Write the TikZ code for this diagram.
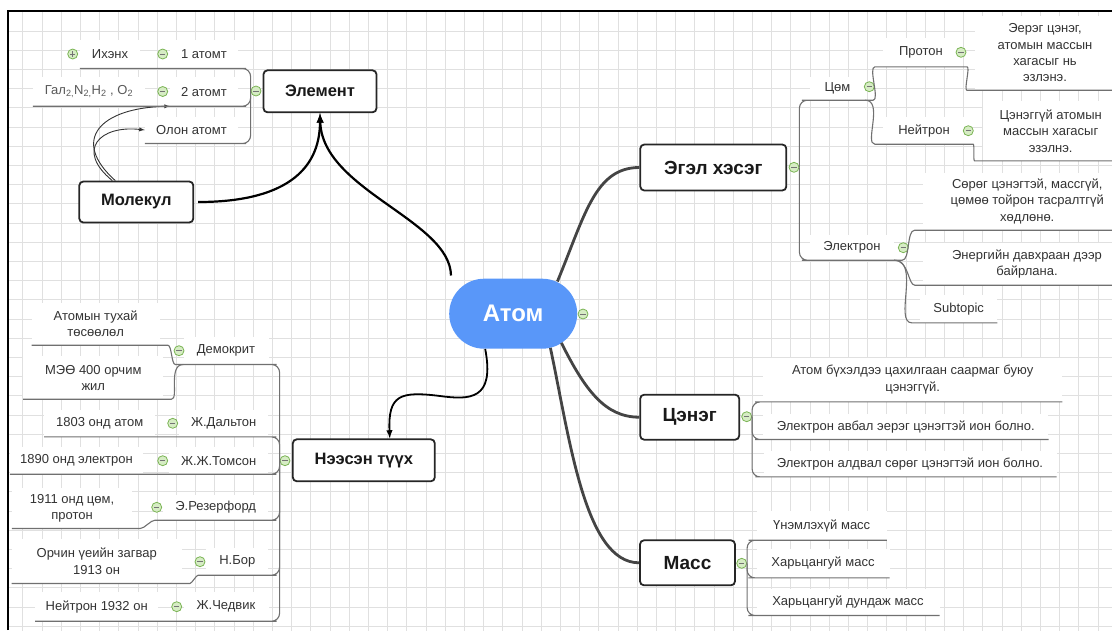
\documentclass[tikz,border=0pt]{standalone}
\usepackage{fontspec}
\setmainfont{Liberation Sans}
\definecolor{atomblue}{RGB}{89,151,249}
\definecolor{branchgray}{RGB}{68,68,68}
\definecolor{subgray}{RGB}{112,112,112}
\definecolor{textgray}{RGB}{51,51,51}
\definecolor{foldgreen}{RGB}{122,180,84}
\definecolor{foldfill}{RGB}{214,236,196}
\definecolor{gridgray}{RGB}{224,224,224}
\tikzset{
  topic/.style     = {shape=rectangle, rounded corners=4pt,
                      draw=black!85, line width=1.8pt, fill=white,
                      align=center, text=black!90,
                      font=\bfseries\fontsize{16.5}{18}\selectfont},
  bigtopic/.style  = {topic, font=\bfseries\fontsize{19}{21}\selectfont},
  root/.style      = {shape=rectangle, rounded corners=35pt,
                      fill=atomblue, text=white,
                      minimum width=128pt, minimum height=70pt,
                      font=\bfseries\fontsize{24}{25}\selectfont},
  leaf/.style 2 args = {shape=rectangle, fill=white, align=center,
                      inner sep=0pt, text=textgray,
                      minimum width=#1pt, minimum height=#2pt,
                      font=\fontsize{13}{16.3}\selectfont},
  fold/.style      = {circle, draw=foldgreen, fill=foldfill, line width=0.8pt,
                      minimum size=10pt, inner sep=0pt,
                      path picture={\draw[black!55, line width=1pt]
                        ([xshift=-2.6pt]path picture bounding box.center) --
                        ([xshift=2.6pt]path picture bounding box.center);}},
  unfold/.style    = {fold,
                      path picture={\draw[black!55, line width=1pt]
                        ([xshift=-2.6pt]path picture bounding box.center) --
                        ([xshift=2.6pt]path picture bounding box.center)
                        ([yshift=-2.6pt]path picture bounding box.center) --
                        ([yshift=2.6pt]path picture bounding box.center);}},
  branch/.style    = {draw=branchgray, line width=2.8pt},
  link/.style      = {draw=black, line width=2.2pt, -latex},
  thinlink/.style  = {draw=black!80, line width=0.9pt, -latex},
  sub/.style       = {draw=subgray, line width=1.1pt, rounded corners=8pt},
  gridline/.style  = {draw=gridgray, line width=0.8pt}
}

\begin{document}
\begin{tikzpicture}
  [
    x = 1pt,
    y = -1pt
  ]
  \useasboundingbox (0,0) rectangle (1112,630);
  \begin{scope}
    \clip (8,11) rectangle (1112,630);
    \draw[gridline, shift={(3.5,11.7)}] (0,0) grid[step=19.2pt] (1120,630);
  \end{scope}
  \draw[line width=2pt] (8,630) -- (8,11) -- (1112,11);

  % main topics
  \node [root] (atom) at (513.2,313.7) {Атом};
  \node [topic, minimum width=113pt, minimum height=42pt] (element) at (320,91.3) {Элемент};
  \node [topic, minimum width=114pt, minimum height=41pt] (molecule) at (136.3,202) {Молекул};
  \node [topic, minimum width=142pt, minimum height=42pt] (history) at (363.8,460.3) {Нээсэн түүх};
  \node [bigtopic, minimum width=146pt, minimum height=46pt] (particle) at (713.3,167.5) {Эгэл хэсэг};
  \node [bigtopic, minimum width=99pt, minimum height=45pt] (charge) at (689.7,417.2) {Цэнэг};
  \node [bigtopic, minimum width=95pt, minimum height=45pt] (mass) at (687.5,562.8) {Масс};

  % element
  \node [leaf={68}{28.6}] (atom1) at (204,54) {1 атомт};
  \node [leaf={60}{28.6}] (ihenh) at (110,54) {Ихэнх};
  \node [leaf={68}{28.6}] (atom2) at (204,91.7) {2 атомт};
  \node [leaf={112}{28.6}, text=black!65] (gal) at (89,91.7)
    {Гал\textsubscript{2,}N\textsubscript{2,}H\textsubscript{2} , O\textsubscript{2}};
  \node [leaf={93}{26.6}] (olon) at (191.5,130) {Олон атомт};

  % particles
  \node [leaf={55}{23.4}] (tsom) at (837.5,88.3) {Цөм};
  \node [leaf={76}{28.8}] (proton) at (921,52.3) {Протон};
  \node [leaf={140}{74.4}] (protondesc) at (1045,52.8)
    {Эерэг цэнэг,\\атомын массын\\хагасыг нь\\эзлэнэ.};
  \node [leaf={82}{26.6}] (neutron) at (924,130.7) {Нейтрон};
  \node [leaf={136}{59.4}] (neutrondesc) at (1050.7,131)
    {Цэнэггүй атомын\\массын хагасыг\\эзэлнэ.};
  \node [leaf={84}{24.6}] (electron) at (852,247.7) {Электрон};
  \node [leaf={209}{57.4}] (electrondesc) at (1027.3,201.3)
    {Сөрөг цэнэгтэй, массгүй,\\цөмөө тойрон тасралтгүй\\хөдлөнө.};
  \node [leaf={208}{42.4}] (energy) at (1027,263.8)
    {Энергийн давхраан дээр\\байрлана.};
  \node [leaf={77}{27.4}] (subtopic) at (958.7,309) {Subtopic};

  % charge
  \node [leaf={299}{44}] (neutral) at (912.7,379.7)
    {Атом бүхэлдээ цахилгаан саармаг буюу\\цэнэггүй.};
  \node [leaf={285}{25.2}] (gain) at (905.8,426.7) {Электрон авбал эерэг цэнэгтэй ион болно.};
  \node [leaf={293}{25.4}] (lose) at (910,464) {Электрон алдвал сөрөг цэнэгтэй ион болно.};

  % mass
  \node [leaf={130}{28.6}] (absmass) at (821.7,525.7) {Үнэмлэхүй масс};
  \node [leaf={133}{28.8}] (relmass) at (823,563.3) {Харьцангуй масс};
  \node [leaf={183}{26}] (avgmass) at (848,602.3) {Харьцангуй дундаж масс};

  % history
  \node [leaf={85}{27.2}] (democritus) at (226,350.7) {Демокрит};
  \node [leaf={128}{42}] (idea) at (95.7,324) {Атомын тухай\\төсөөлөл};
  \node [leaf={140}{42.6}] (bc400) at (93.3,377.7) {МЭӨ 400 орчим\\жил};
  \node [leaf={89}{26.8}] (dalton) at (223.7,423.3) {Ж.Дальтон};
  \node [leaf={111}{26.8}] (y1803) at (99.7,423.3) {1803 онд атом};
  \node [leaf={99}{26.6}] (thomson) at (218.7,460.7) {Ж.Ж.Томсон};
  \node [leaf={133}{26.6}] (y1890) at (76.5,460.7) {1890 онд электрон};
  \node [leaf={105}{25.4}] (rutherford) at (215.7,507.3) {Э.Резерфорд};
  \node [leaf={120}{40.6}] (y1911) at (72,508) {1911 онд цөм,\\протон};
  \node [leaf={62}{26.6}] (bohr) at (237.3,561.7) {Н.Бор};
  \node [leaf={170}{44}] (y1913) at (96.7,561.3) {Орчин үеийн загвар\\1913 он};
  \node [leaf={85}{28.6}] (chadwick) at (226,606.7) {Ж.Чедвик};
  \node [leaf={123}{28.6}] (y1932) at (96.7,606.7) {Нейтрон 1932 он};

  % fold marks
  \node [fold] (atomF) at (583,314) {};
  \node [fold] (elementF) at (256,91) {};
  \node [fold] (atom1F) at (162.7,54) {};
  \node [unfold] (ihenhF) at (72.7,54) {};
  \node [fold] (atom2F) at (162.7,91.5) {};
  \node [fold] (particleF) at (794,167.3) {};
  \node [fold] (tsomF) at (869.3,86.7) {};
  \node [fold] (protonF) at (961,52.3) {};
  \node [fold] (neutronF) at (968.3,130.7) {};
  \node [fold] (electronF) at (903.3,247.7) {};
  \node [fold] (chargeF) at (746.7,416.7) {};
  \node [fold] (massF) at (741.7,563.3) {};
  \node [fold] (historyF) at (285,460.7) {};
  \node [fold] (democritusF) at (179,350.7) {};
  \node [fold] (daltonF) at (172.7,423.3) {};
  \node [fold] (thomsonF) at (162.7,460.7) {};
  \node [fold] (rutherfordF) at (156.7,507.3) {};
  \node [fold] (bohrF) at (200,561.7) {};
  \node [fold] (chadwickF) at (176.7,606.7) {};

  % branches from the root
  \draw[branch] ([shift={(-20,3)}]atom.north east)
    .. controls (585,215) and (595,167.5) .. (particle.west);
  \draw[branch] ([shift={(-16,-6)}]atom.south east)
    .. controls (585,390) and (605,417.2) .. (charge.west);
  \draw[branch] ([shift={(-27,-1)}]atom.south east)
    .. controls (570,440) and (585,562.8) .. (mass.west);
  \draw[link] ([shift={(2,-3)}]atom.north west)
    .. controls (450,220) and (322,190) .. (element.south);
  \draw[link] ([xshift=4pt]molecule.east)
    .. controls (282,202) and (320,172) .. (element.south);
  \draw[link, line width=1.8pt] ([xshift=-28pt]atom.south)
    .. controls (495,400) and (470,400) .. (440,396)
    .. controls (400,391) and (388,395) .. ([xshift=26pt]history.north);
  \draw[thinlink] ([xshift=-21pt]molecule.north)
    .. controls (70,140) and (100,108) .. (atom2.south west);
  \draw[thinlink] ([xshift=-24pt]molecule.north)
    .. controls (75,150) and (100,125) .. (olon.west);

  % sub lines
  \draw[sub] (elementF.west) |- (atom1.south east) -- (ihenh.south west);
  \draw[sub] (elementF.west) |- (atom2.south east) -- (gal.south west);
  \draw[sub] (elementF.west) |- (olon.south east) -- (olon.south west);

  \draw[sub] (particleF.east) |- (tsom.south west) -- (tsom.south east)
    to[out=0,in=180] (proton.south west) -- (proton.south east)
    to[out=0,in=180] (protondesc.south west) -- (protondesc.south east);
  \draw[sub] (tsom.south east)
    to[out=0,in=180] (neutron.south west) -- (neutron.south east)
    to[out=0,in=180] (neutrondesc.south west) -- (neutrondesc.south east);
  \draw[sub] (particleF.east) |- (electron.south west) -- (electron.south east)
    to[out=0,in=180] (electrondesc.south west) -- (electrondesc.south east);
  \draw[sub] (electron.south east)
    to[out=0,in=180] (energy.south west) -- (energy.south east);
  \draw[sub] (electron.south east)
    to[out=0,in=180] (subtopic.south west) -- (subtopic.south east);

  \draw[sub] (chargeF.east) |- (neutral.south west) -- (neutral.south east);
  \draw[sub] (chargeF.east) |- (gain.south west) -- (gain.south east);
  \draw[sub] (chargeF.east) |- (lose.south west) -- (lose.south east);

  \draw[sub] (massF.east) |- (absmass.south west) -- (absmass.south east);
  \draw[sub] (massF.east) |- (relmass.south west) -- (relmass.south east);
  \draw[sub] (massF.east) |- (avgmass.south west) -- (avgmass.south east);

  \draw[sub] (historyF.west) |- (democritus.south east) -- (democritus.south west)
    to[out=180,in=0] (idea.south east) -- (idea.south west);
  \draw[sub] (democritus.south west)
    to[out=180,in=0] (bc400.south east) -- (bc400.south west);
  \draw[sub] (historyF.west) |- (dalton.south east) -- (y1803.south west);
  \draw[sub] (historyF.west) |- (thomson.south east) -- (y1890.south west);
  \draw[sub] (historyF.west) |- (rutherford.south east) -- (rutherford.south west)
    to[out=180,in=0] (y1911.south east) -- (y1911.south west);
  \draw[sub] (historyF.west) |- (bohr.south east) -- (bohr.south west)
    to[out=180,in=0] (y1913.south east) -- (y1913.south west);
  \draw[sub] (historyF.west) |- (chadwick.south east) -- (y1932.south west);
\end{tikzpicture}
\end{document}
